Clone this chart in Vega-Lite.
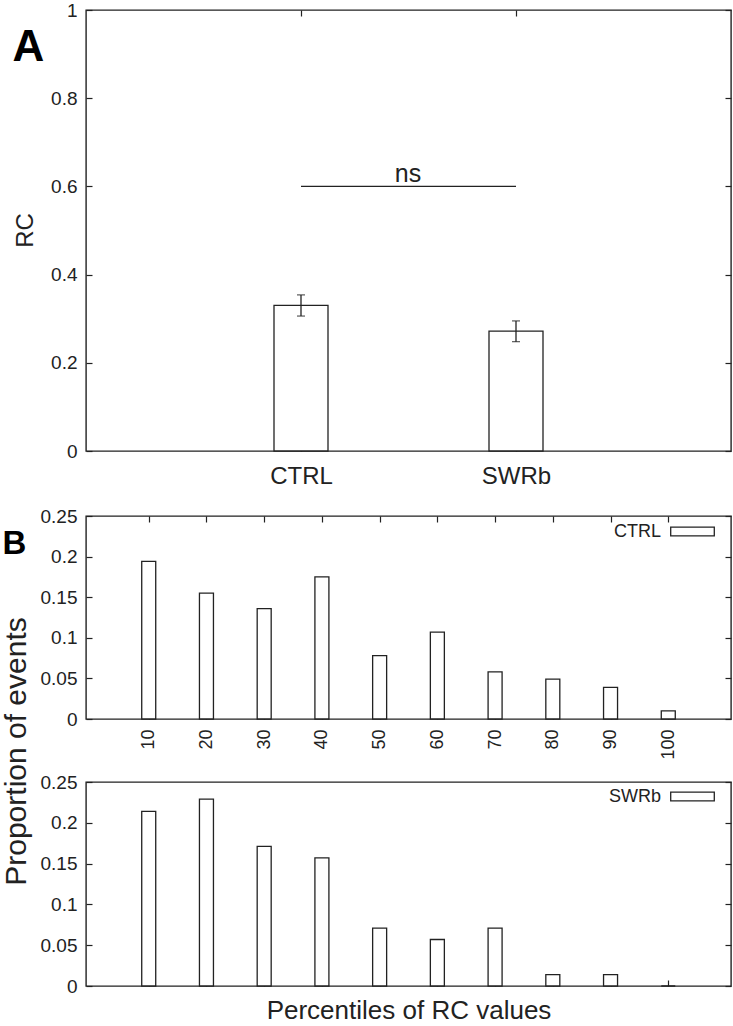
{
  "$schema": "https://vega.github.io/schema/vega-lite/v6.json",
  "background": "white",
  "padding": {"left": 0, "top": 0, "right": 0, "bottom": 0},
  "bounds": "flush",
  "config": {
    "view": {"stroke": "#222", "strokeWidth": 1.4},
    "axis": {"domain": false, "grid": false, "tickColor": "#222", "tickWidth": 1.2, "tickSize": -6, "labelFont": "Liberation Sans", "labelFontSize": 19, "labelColor": "#222", "labelPadding": 15, "titleFont": "Liberation Sans", "titleFontWeight": "normal", "titleColor": "#222"},
    "legend": {"labelFont": "Liberation Sans", "labelFontSize": 18, "labelColor": "#222"}
  },
  "spacing": 65,
  "resolve": {"scale": {"stroke": "independent"}, "legend": {"stroke": "independent"}},
  "vconcat": [
    {
      "width": 645,
      "height": 441,
      "data": {"values": [
        {"group": "CTRL", "rc": 0.33, "lo": 0.306, "hi": 0.354},
        {"group": "SWRb", "rc": 0.272, "lo": 0.248, "hi": 0.295}
      ]},
      "resolve": {"axis": {"x": "independent", "y": "independent"}},
      "layer": [
        {
          "mark": {"type": "bar", "width": 54, "fill": "white", "stroke": "#222", "strokeWidth": 1.3},
          "encoding": {
            "x": {"field": "group", "type": "nominal", "scale": {"type": "point", "padding": 1}, "axis": {"orient": "bottom", "title": null, "labelAngle": 0, "labelFontSize": 24, "labelPadding": 19}},
            "y": {"field": "rc", "type": "quantitative", "scale": {"domain": [0, 1], "nice": false}, "axis": {"orient": "left", "title": "RC", "titleFontSize": 24, "titleAngle": -90, "titleX": -54, "titleY": 220, "titleAlign": "center", "titleBaseline": "alphabetic", "values": [0, 0.2, 0.4, 0.6, 0.8, 1], "format": "~g"}}
          }
        },
        {
          "mark": {"type": "rule", "stroke": "#222", "strokeWidth": 1.3},
          "encoding": {
            "x": {"field": "group", "type": "nominal", "axis": {"orient": "top", "labels": false, "title": "A", "titleFontSize": 44, "titleFontWeight": "bold", "titleColor": "black", "titleAngle": 0, "titleAlign": "left", "titleBaseline": "alphabetic", "titleX": -74, "titleY": 50}},
            "y": {"field": "lo", "type": "quantitative", "axis": {"orient": "right", "labels": false, "title": null, "values": [0, 0.2, 0.4, 0.6, 0.8, 1]}},
            "y2": {"field": "hi"}
          }
        },
        {
          "mark": {"type": "tick", "orient": "horizontal", "size": 8, "thickness": 1.3, "color": "#222"},
          "encoding": {
            "x": {"field": "group", "type": "nominal", "axis": null},
            "y": {"field": "lo", "type": "quantitative", "axis": null}
          }
        },
        {
          "mark": {"type": "tick", "orient": "horizontal", "size": 8, "thickness": 1.3, "color": "#222"},
          "encoding": {
            "x": {"field": "group", "type": "nominal", "axis": null},
            "y": {"field": "hi", "type": "quantitative", "axis": null}
          }
        },
        {
          "data": {"values": [{"from": "CTRL", "to": "SWRb", "level": 0.6, "label": "ns"}]},
          "layer": [
            {
              "mark": {"type": "rule", "stroke": "#222", "strokeWidth": 1.3},
              "encoding": {
                "x": {"field": "from", "type": "nominal", "axis": null},
                "x2": {"field": "to"},
                "y": {"field": "level", "type": "quantitative", "axis": null}
              }
            },
            {
              "mark": {"type": "text", "font": "Liberation Sans", "fontSize": 25, "color": "#222", "align": "center", "baseline": "alphabetic", "dx": 107, "dy": -4},
              "encoding": {
                "x": {"field": "from", "type": "nominal", "axis": null},
                "y": {"field": "level", "type": "quantitative", "axis": null},
                "text": {"field": "label"}
              }
            }
          ]
        }
      ]
    },
    {
      "bounds": "flush",
      "spacing": 63,
      "resolve": {"scale": {"stroke": "independent"}, "legend": {"stroke": "independent"}},
      "vconcat": [
        {
          "width": 645,
          "height": 203,
          "data": {"values": [
            {"group": "CTRL", "pct": 10, "prop": 0.194},
            {"group": "CTRL", "pct": 20, "prop": 0.155},
            {"group": "CTRL", "pct": 30, "prop": 0.136},
            {"group": "CTRL", "pct": 40, "prop": 0.175},
            {"group": "CTRL", "pct": 50, "prop": 0.078},
            {"group": "CTRL", "pct": 60, "prop": 0.107},
            {"group": "CTRL", "pct": 70, "prop": 0.058},
            {"group": "CTRL", "pct": 80, "prop": 0.049},
            {"group": "CTRL", "pct": 90, "prop": 0.039},
            {"group": "CTRL", "pct": 100, "prop": 0.01}
          ]},
          "resolve": {"axis": {"x": "independent", "y": "independent"}},
          "layer": [
            {
              "mark": {"type": "bar", "width": 14, "fill": "white", "strokeWidth": 0},
              "encoding": {
                "x": {"field": "pct", "type": "quantitative", "scale": {"domain": [0, 110], "nice": false}, "axis": {"orient": "bottom", "title": null, "values": [10, 20, 30, 40, 50, 60, 70, 80, 90, 100], "labelAngle": -90, "labelFontSize": 18, "labelPadding": 16}},
                "y": {"field": "prop", "type": "quantitative", "scale": {"domain": [0, 0.25], "nice": false}, "axis": {"orient": "left", "title": "Proportion of events", "titleFontSize": 30, "titleY": 235, "titleX": -61, "titleAngle": -90, "titleAlign": "center", "titleBaseline": "alphabetic", "values": [0, 0.05, 0.1, 0.15, 0.2, 0.25], "format": "~g"}}
              }
            },
            {
              "mark": {"type": "bar", "width": 14, "filled": false, "strokeWidth": 1.3},
              "encoding": {
                "x": {"field": "pct", "type": "quantitative", "axis": {"orient": "top", "labels": false, "title": "B", "titleFontSize": 33, "titleFontWeight": "bold", "titleColor": "black", "titleAngle": 0, "titleAlign": "left", "titleBaseline": "alphabetic", "titleX": -84, "titleY": 37, "values": [10, 20, 30, 40, 50, 60, 70, 80, 90, 100]}},
                "y": {"field": "prop", "type": "quantitative", "axis": {"orient": "right", "labels": false, "title": null, "values": [0, 0.05, 0.1, 0.15, 0.2, 0.25]}},
                "stroke": {"field": "group", "type": "nominal", "scale": {"range": ["#222"]}, "legend": {"title": null, "orient": "none", "legendX": 584, "legendY": -7, "symbolType": "M-1,-0.2H1V0.2H-1Z", "symbolSize": 1900, "symbolStrokeWidth": 1.3, "symbolFillColor": "white", "labelAlign": "right", "labelOffset": -54}}
              }
            }
          ]
        },
        {
          "width": 645,
          "height": 204,
          "data": {"values": [
            {"group": "SWRb", "pct": 10, "prop": 0.214},
            {"group": "SWRb", "pct": 20, "prop": 0.229},
            {"group": "SWRb", "pct": 30, "prop": 0.171},
            {"group": "SWRb", "pct": 40, "prop": 0.157},
            {"group": "SWRb", "pct": 50, "prop": 0.071},
            {"group": "SWRb", "pct": 60, "prop": 0.057},
            {"group": "SWRb", "pct": 70, "prop": 0.071},
            {"group": "SWRb", "pct": 80, "prop": 0.014},
            {"group": "SWRb", "pct": 90, "prop": 0.014},
            {"group": "SWRb", "pct": 100, "prop": 0}
          ]},
          "resolve": {"axis": {"x": "independent", "y": "independent"}},
          "layer": [
            {
              "mark": {"type": "bar", "width": 14, "fill": "white", "strokeWidth": 0},
              "encoding": {
                "x": {"field": "pct", "type": "quantitative", "scale": {"domain": [0, 110], "nice": false}, "axis": {"orient": "bottom", "title": "Percentiles of RC values", "titleFontSize": 26, "titlePadding": 11, "labels": false, "values": [10, 20, 30, 40, 50, 60, 70, 80, 90, 100]}},
                "y": {"field": "prop", "type": "quantitative", "scale": {"domain": [0, 0.25], "nice": false}, "axis": {"orient": "left", "title": null, "values": [0, 0.05, 0.1, 0.15, 0.2, 0.25], "format": "~g"}}
              }
            },
            {
              "mark": {"type": "bar", "width": 14, "filled": false, "strokeWidth": 1.3},
              "encoding": {
                "x": {"field": "pct", "type": "quantitative", "axis": null},
                "y": {"field": "prop", "type": "quantitative", "axis": {"orient": "right", "labels": false, "title": null, "values": [0, 0.05, 0.1, 0.15, 0.2, 0.25]}},
                "stroke": {"field": "group", "type": "nominal", "scale": {"range": ["#222"]}, "legend": {"title": null, "orient": "none", "legendX": 584, "legendY": -8, "symbolType": "M-1,-0.2H1V0.2H-1Z", "symbolSize": 1900, "symbolStrokeWidth": 1.3, "symbolFillColor": "white", "labelAlign": "right", "labelOffset": -54}}
              }
            }
          ]
        }
      ]
    }
  ]
}
